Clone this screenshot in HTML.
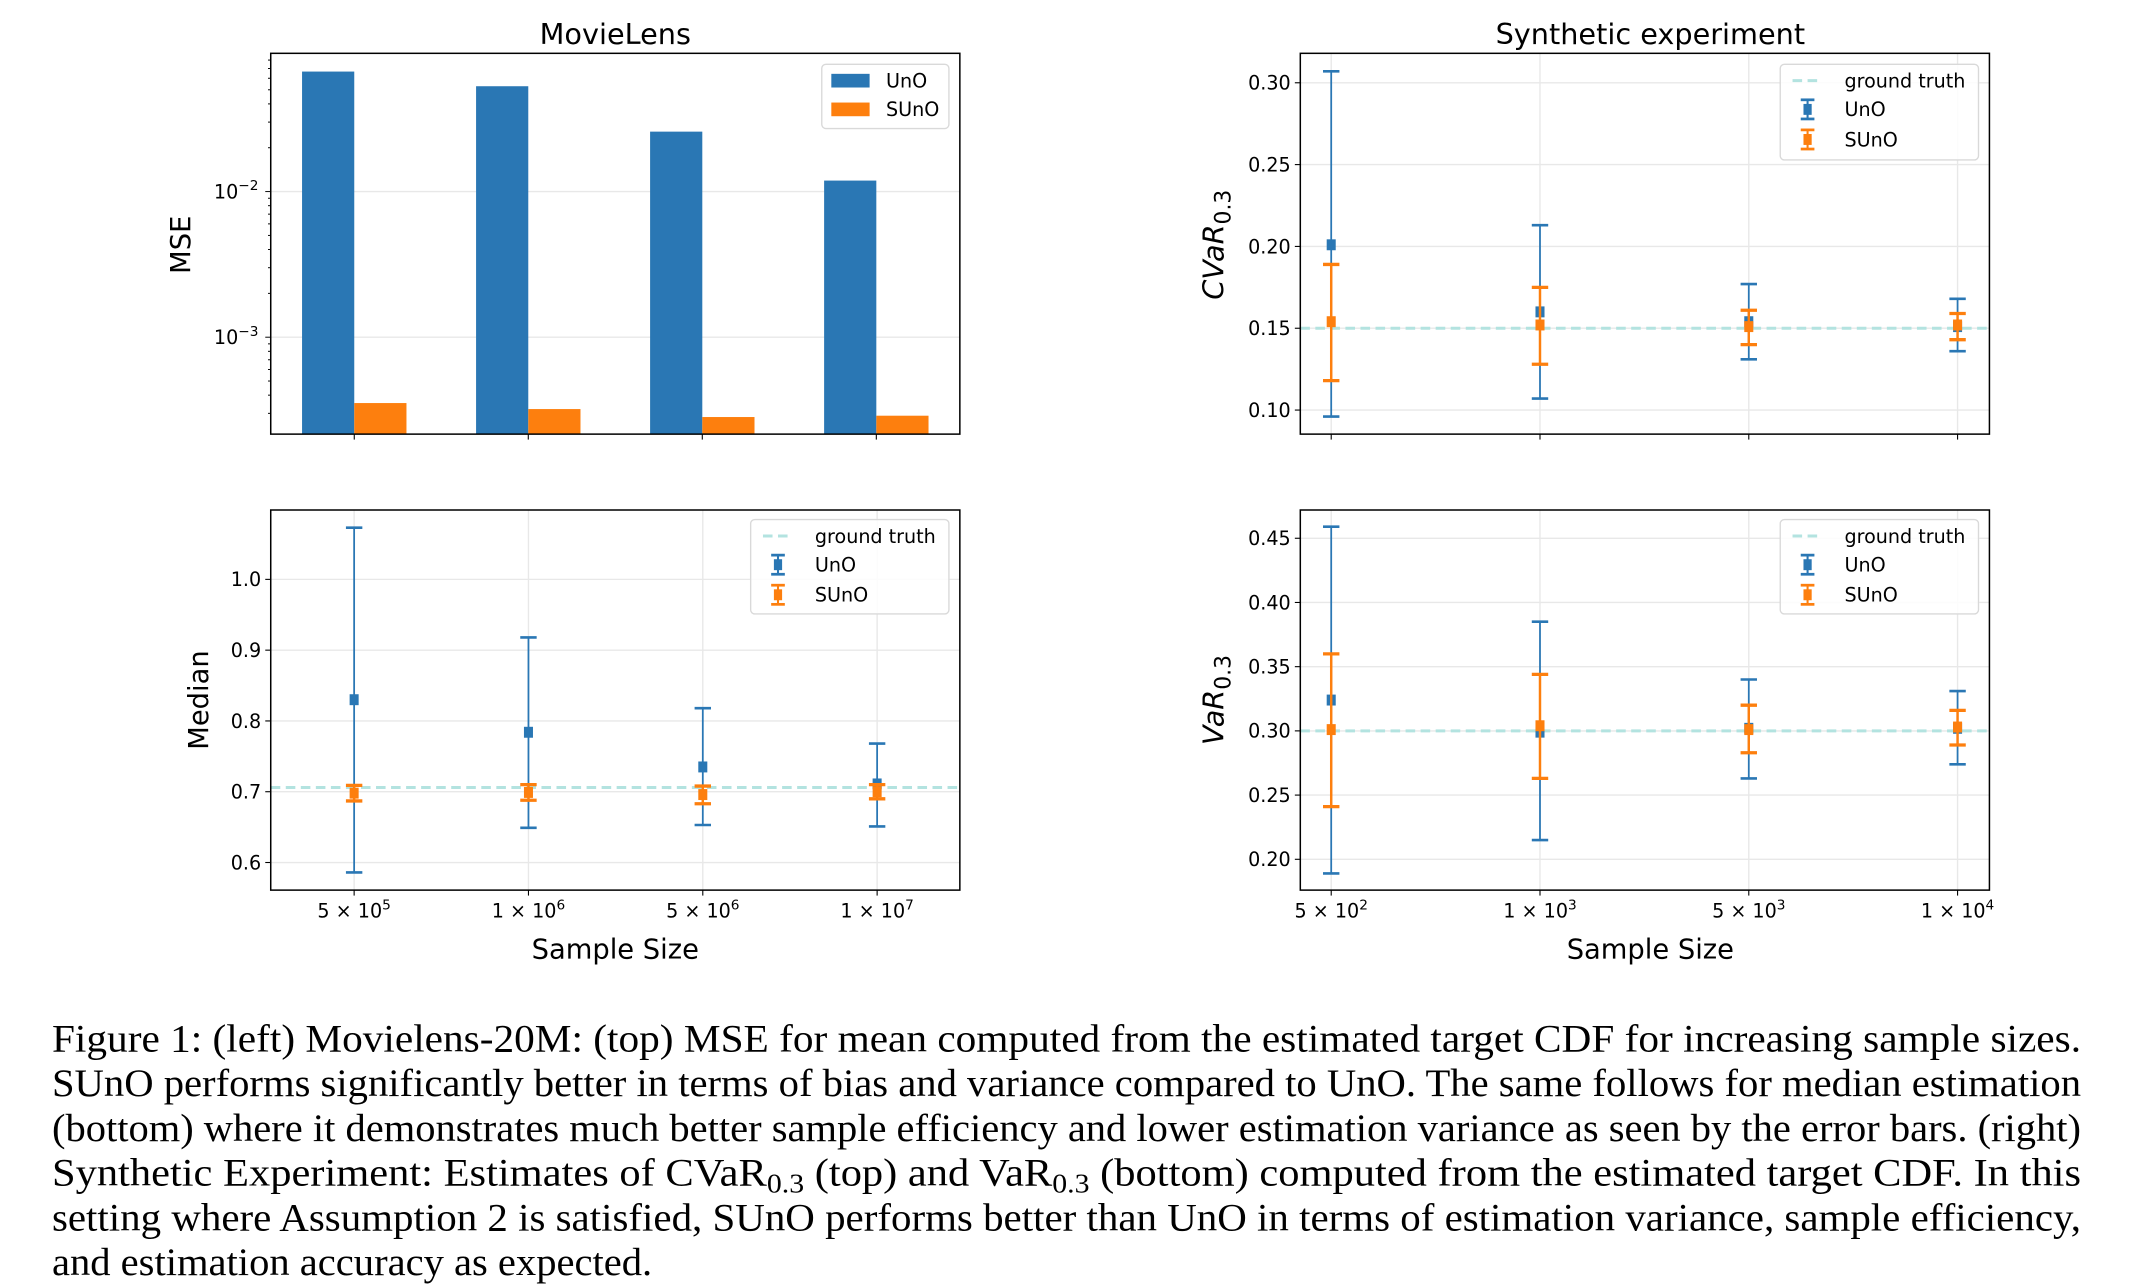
<!DOCTYPE html>
<html><head><meta charset="utf-8"><style>
html,body{margin:0;padding:0;background:#fff;}
svg{display:block;}
</style></head><body>
<svg id="fig" width="2133" height="1288" viewBox="0 0 1560 942" xmlns="http://www.w3.org/2000/svg" font-family="'DejaVu Sans', 'Liberation Sans', sans-serif"></svg>
<script>
// ---- Data ----
const mlCategories = ["5e5","1e6","5e6","1e7"];
const mseUnO = [0.0667, 0.0529, 0.0258, 0.0119];
const mseSUnO = [0.000353, 0.000321, 0.000283, 0.000289];

const medUnO = [0.830, 0.784, 0.735, 0.711];
const medUnOLow = [0.586, 0.649, 0.653, 0.651];
const medUnOHigh = [1.073, 0.918, 0.818, 0.768];
const medSUnO = [0.698, 0.699, 0.696, 0.700];
const medSUnOLow = [0.687, 0.688, 0.683, 0.690];
const medSUnOHigh = [0.709, 0.710, 0.708, 0.710];
const medTruth = 0.706;
const medTicks = [0.6, 0.7, 0.8, 0.9, 1.0];
const medTickLabels = ["0.6","0.7","0.8","0.9","1.0"];

const cvarUnO = [0.201, 0.160, 0.154, 0.151];
const cvarUnOLow = [0.096, 0.107, 0.131, 0.136];
const cvarUnOHigh = [0.307, 0.213, 0.177, 0.168];
const cvarSUnO = [0.154, 0.152, 0.151, 0.152];
const cvarSUnOLow = [0.118, 0.128, 0.140, 0.143];
const cvarSUnOHigh = [0.189, 0.175, 0.161, 0.159];
const cvarTruth = 0.15;
const cvarTicks = [0.10, 0.15, 0.20, 0.25, 0.30];
const cvarTickLabels = ["0.10","0.15","0.20","0.25","0.30"];

const varUnO = [0.324, 0.299, 0.302, 0.302];
const varUnOLow = [0.189, 0.215, 0.263, 0.274];
const varUnOHigh = [0.459, 0.385, 0.340, 0.331];
const varSUnO = [0.301, 0.304, 0.301, 0.303];
const varSUnOLow = [0.241, 0.263, 0.283, 0.289];
const varSUnOHigh = [0.360, 0.344, 0.320, 0.316];
const varTruth = 0.30;
const varTicks = [0.20, 0.25, 0.30, 0.35, 0.40, 0.45];
const varTickLabels = ["0.20","0.25","0.30","0.35","0.40","0.45"];

const mlXLabels = [["5","5"],["1","6"],["5","6"],["1","7"]];
const synXLabels = [["5","2"],["1","3"],["5","3"],["1","4"]];

const BLUE="#2a77b4", ORANGE="#fd7f0e", TRUTH="#b3e3e0", GRID="#e8e8e8";
const svg=document.getElementById('fig');
const NS="http://www.w3.org/2000/svg";
function mk(tag, attrs, parent){const e=document.createElementNS(NS,tag);for(const k in attrs)e.setAttribute(k,attrs[k]);(parent||svg).appendChild(e);return e;}

const L={x0:198,x1:702}, R={x0:951,x1:1455};
const T={y0:39,y1:317.5}, B={y0:373,y1:651};
function linY(vmin,vmax,p){return v=>p.y1-(v-vmin)/(vmax-vmin)*(p.y1-p.y0);}

function frame(p,q,name){
  const g=mk('g',{});
  
  mk('rect',{x:p.x0,y:q.y0,width:p.x1-p.x0,height:q.y1-q.y0,fill:'none',stroke:'#000','stroke-width':1.1},g);
}
function text(x,y,s,attrs,name){const t=mk('text',Object.assign({x:x,y:y},attrs||{}));t.textContent=s;if(name){}return t;}

function yAxisLinear(p,q,ticks,labels,ys,name){
  const g=mk('g',{});
  ticks.forEach((v,i)=>{const y=ys(v);
    mk('line',{x1:p.x0,x2:p.x1,y1:y,y2:y,stroke:GRID,'stroke-width':1},g);
    mk('line',{x1:p.x0-4,x2:p.x0,y1:y,y2:y,stroke:'#000','stroke-width':0.8},g);
    const t=mk('text',{x:p.x0-7,y:y+5,'text-anchor':'end','font-size':14},g);t.textContent=labels[i];});
}
function xGrid(p,q,xs){for(let i=0;i<4;i++){const x=xs(i);mk('line',{x1:x,x2:x,y1:q.y0,y2:q.y1,stroke:GRID,'stroke-width':1});mk('line',{x1:x,x2:x,y1:q.y1,y2:q.y1+4,stroke:'#000','stroke-width':0.8});}}
function xLabels(p,q,xs,labs,name){
  labs.forEach((l,i)=>{const t=mk('text',{x:xs(i),y:q.y1+20,'text-anchor':'middle','font-size':14});
    
    t.appendChild(document.createTextNode(l[0]+' \u00d7 10'));const s=mk('tspan',{dy:-6,'font-size':10},t);s.textContent=l[1];});
}
function errSeries(xs,ys,mid,lo,hi,color,lw,off,name){
  for(let i=0;i<mid.length;i++){
    const x=xs(i)+off;
    const g=mk('g',{});
    mk('line',{x1:x,x2:x,y1:ys(lo[i]),y2:ys(hi[i]),stroke:color,'stroke-width':lw},g);
    mk('line',{x1:x-6,x2:x+6,y1:ys(lo[i]),y2:ys(lo[i]),stroke:color,'stroke-width':lw+0.6},g);
    mk('line',{x1:x-6,x2:x+6,y1:ys(hi[i]),y2:ys(hi[i]),stroke:color,'stroke-width':lw+0.6},g);
    mk('rect',{x:x-3.3,y:ys(mid[i])-4,width:6.6,height:8,fill:color},g);
  }
}
function truth(p,ys,v,name){const l=mk('line',{x1:p.x0,x2:p.x1,y1:ys(v),y2:ys(v),stroke:TRUTH,'stroke-width':2.2,'stroke-dasharray':'7,4'});}
function errLegend(x0,y0,x1,y1,name){
  const g=mk('g',{});
  mk('rect',{x:x0,y:y0,width:x1-x0,height:y1-y0,rx:3,fill:'#fff','fill-opacity':0.85,stroke:'#d9d9d9','stroke-width':1},g);
  const cx=x0+20;
  mk('line',{x1:cx-11,x2:cx+11,y1:y0+12,y2:y0+12,stroke:TRUTH,'stroke-width':2.2,'stroke-dasharray':'7,4'},g);
  let t=mk('text',{x:x0+47,y:y0+17,'font-size':14},g);t.textContent='ground truth';
  [[BLUE,'UnO',33],[ORANGE,'SUnO',55]].forEach(([c,s,dy])=>{
    const yc=y0+dy;
    mk('line',{x1:cx,x2:cx,y1:yc-7,y2:yc+7,stroke:c,'stroke-width':1.5},g);
    mk('line',{x1:cx-5,x2:cx+5,y1:yc-7,y2:yc-7,stroke:c,'stroke-width':2},g);
    mk('line',{x1:cx-5,x2:cx+5,y1:yc+7,y2:yc+7,stroke:c,'stroke-width':2},g);
    mk('rect',{x:cx-3,y:yc-4,width:6,height:8,fill:c},g);
    const tt=mk('text',{x:x0+47,y:yc+5,'font-size':14},g);tt.textContent=s;
  });
}

// ---- Top-left: MSE log bar chart ----
(function(){
  const p=L,q=T;
  const lmin=Math.log10(2.16e-4), lmax=Math.log10(0.089);
  const ys=v=>q.y1-(Math.log10(v)-lmin)/(lmax-lmin)*(q.y1-q.y0);
  const step=(p.x1-p.x0)/(4-1+0.96);
  const xs=i=>p.x0+step*(0.48+i);
  [1e-3,1e-2].forEach(v=>mk('line',{x1:p.x0,x2:p.x1,y1:ys(v),y2:ys(v),stroke:GRID,'stroke-width':1}));
  const bw=step*0.3;
  mseUnO.forEach((v,i)=>{const r=mk('rect',{x:xs(i)-bw,y:ys(v),width:bw,height:q.y1-ys(v),fill:BLUE});
    });
  mseSUnO.forEach((v,i)=>{const r=mk('rect',{x:xs(i),y:ys(v),width:bw,height:q.y1-ys(v),fill:ORANGE});
    });
  for(let e=-4;e<=-2;e++)for(let m=1;m<10;m++){const v=m*Math.pow(10,e);const y=ys(v);if(y<q.y0||y>q.y1)continue;
    mk('line',{x1:p.x0-(m===1?4:2),x2:p.x0,y1:y,y2:y,stroke:'#000','stroke-width':0.7});}
  [[-2,1e-2],[-3,1e-3]].forEach(([e,v])=>{const t=mk('text',{x:p.x0-9,y:ys(v)+5,'text-anchor':'end','font-size':14});
    
    t.appendChild(document.createTextNode('10'));const s=mk('tspan',{dy:-6,'font-size':10},t);s.textContent='\u2212'+(-e);});
  for(let i=0;i<4;i++)mk('line',{x1:xs(i),x2:xs(i),y1:q.y1,y2:q.y1+4,stroke:'#000','stroke-width':0.8});
  frame(p,q,'mse');
  const g=mk('g',{});
  mk('rect',{x:601,y:47,width:93,height:47,rx:3,fill:'#fff',stroke:'#d9d9d9'},g);
  mk('rect',{x:608,y:54,width:28,height:10,fill:BLUE},g);
  let t=mk('text',{x:648,y:64,'font-size':14},g);t.textContent='UnO';
  mk('rect',{x:608,y:75,width:28,height:10,fill:ORANGE},g);
  t=mk('text',{x:648,y:85,'font-size':14},g);t.textContent='SUnO';
  text(450,32,'MovieLens',{'text-anchor':'middle','font-size':21},'movielens-title');
  text(0,0,'MSE',{'text-anchor':'middle','font-size':20,transform:'translate(139,179) rotate(-90)'},'mse-y-axis-title');
})();

// ---- Bottom-left: Median ----
(function(){
  const p=L,q=B;
  const xsm=i=>259+127.5*i;
  const ys=linY(0.561,1.098,q);
  yAxisLinear(p,q,medTicks,medTickLabels,ys,'median');
  xGrid(p,q,xsm);
  truth(p,ys,medTruth,'median');
  errSeries(xsm,ys,medUnO,medUnOLow,medUnOHigh,BLUE,1.3,0,'median-uno');
  errSeries(xsm,ys,medSUnO,medSUnOLow,medSUnOHigh,ORANGE,1.8,0,'median-suno');
  frame(p,q,'median');
  errLegend(549,380,694,449,'median');
  xLabels(p,q,xsm,mlXLabels,'median');
  text(450,701,'Sample Size',{'text-anchor':'middle','font-size':20},'median-x-axis-title');
  text(0,0,'Median',{'text-anchor':'middle','font-size':20,transform:'translate(152,512) rotate(-90)'},'median-y-axis-title');
})();

// ---- Top-right: CVaR ----
(function(){
  const p=R,q=T,xs=i=>973.6+152.7*i;
  const ys=linY(0.0853,0.318,q);
  yAxisLinear(p,q,cvarTicks,cvarTickLabels,ys,'cvar');
  xGrid(p,q,xs);
  truth(p,ys,cvarTruth,'cvar');
  errSeries(xs,ys,cvarUnO,cvarUnOLow,cvarUnOHigh,BLUE,1.3,0,'cvar-uno');
  errSeries(xs,ys,cvarSUnO,cvarSUnOLow,cvarSUnOHigh,ORANGE,1.8,0,'cvar-suno');
  frame(p,q,'cvar');
  errLegend(1302,47,1447,117,'cvar');
  text(1207,32,'Synthetic experiment',{'text-anchor':'middle','font-size':21},'synthetic-title');
  const t=mk('text',{x:0,y:0,'text-anchor':'middle','font-size':21,'font-style':'italic',transform:'translate(895,179) rotate(-90)'});
  
  t.appendChild(document.createTextNode('CVaR'));const s=mk('tspan',{dy:5,'font-size':16,'font-style':'normal'},t);s.textContent='0.3';
})();

// ---- Bottom-right: VaR ----
(function(){
  const p=R,q=B,xs=i=>973.6+152.7*i;
  const ys=linY(0.176,0.472,q);
  yAxisLinear(p,q,varTicks,varTickLabels,ys,'var');
  xGrid(p,q,xs);
  truth(p,ys,varTruth,'var');
  errSeries(xs,ys,varUnO,varUnOLow,varUnOHigh,BLUE,1.3,0,'var-uno');
  errSeries(xs,ys,varSUnO,varSUnOLow,varSUnOHigh,ORANGE,1.8,0,'var-suno');
  frame(p,q,'var');
  errLegend(1302,380,1447,449,'var');
  xLabels(p,q,xs,synXLabels,'var');
  text(1207,701,'Sample Size',{'text-anchor':'middle','font-size':20},'var-x-axis-title');
  const t=mk('text',{x:0,y:0,'text-anchor':'middle','font-size':21,'font-style':'italic',transform:'translate(895,512) rotate(-90)'});
  
  t.appendChild(document.createTextNode('VaR'));const s=mk('tspan',{dy:5,'font-size':16,'font-style':'normal'},t);s.textContent='0.3';
})();

// ---- Caption ----
(function(){
  const g=mk('g',{'font-family':"'Liberation Serif', serif",'font-size':28.5});
  
  const lines=[
    "Figure 1: (left) Movielens-20M: (top) MSE for mean computed from the estimated target CDF for increasing sample sizes.",
    "SUnO performs significantly better in terms of bias and variance compared to UnO. The same follows for median estimation",
    "(bottom) where it demonstrates much better sample efficiency and lower estimation variance as seen by the error bars. (right)",
    null,
    "setting where Assumption 2 is satisfied, SUnO performs better than UnO in terms of estimation variance, sample efficiency,",
    "and estimation accuracy as expected."
  ];
  lines.forEach((l,i)=>{const y=769+32.7*i;
    if(l===null){
      const t=mk('text',{x:38,y:y,textLength:1484,lengthAdjust:'spacingAndGlyphs'},g);
      t.appendChild(document.createTextNode('Synthetic Experiment: Estimates of CVaR'));
      let s=mk('tspan',{dy:5,'font-size':20},t);s.textContent='0.3';
      s=mk('tspan',{dy:-5},t);s.textContent=' (top) and VaR';
      s=mk('tspan',{dy:5,'font-size':20},t);s.textContent='0.3';
      s=mk('tspan',{dy:-5},t);s.textContent=' (bottom) computed from the estimated target CDF. In this';
    } else {
      const a={x:38,y:y,textLength:(i<5?1484:439),lengthAdjust:'spacingAndGlyphs'};
      const t=mk('text',a,g);t.textContent=l;
    }
  });
})();
</script>
</body></html>
